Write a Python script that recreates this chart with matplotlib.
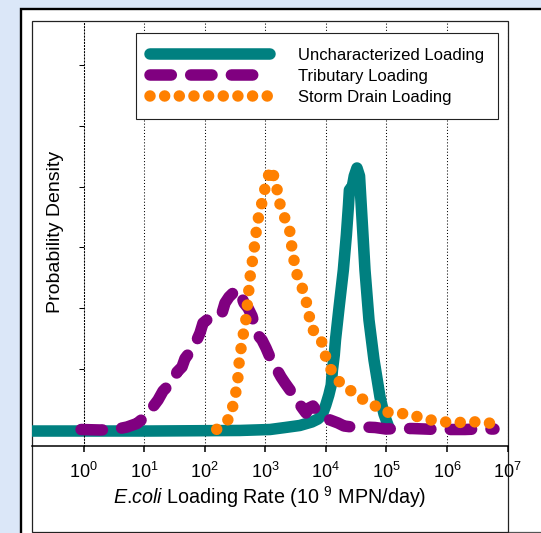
import numpy as np
import matplotlib
matplotlib.use('Agg')
import matplotlib.pyplot as plt
from matplotlib.patches import Rectangle
from matplotlib.lines import Line2D
from matplotlib.ticker import NullLocator

plt.rcParams['font.family'] = ['Liberation Sans', 'DejaVu Sans']
plt.rcParams['mathtext.fontset'] = 'custom'
plt.rcParams['mathtext.rm'] = 'Liberation Sans'
plt.rcParams['mathtext.it'] = 'Liberation Sans:italic'
plt.rcParams['mathtext.bf'] = 'Liberation Sans:bold'

# ---------------- data ----------------
series_labels = ['Uncharacterized Loading', 'Tributary Loading', 'Storm Drain Loading']
x_tick_exponents = [0, 1, 2, 3, 4, 5, 6, 7]
y_ticks = [0, 1, 2, 3, 4, 5, 6]

# log10 of E.coli loading rate (10^9 MPN/day) and probability density (arbitrary units)
uncharacterized_log10 = [-0.9, 1.1, 2.58, 3.08, 3.33, 3.57, 3.77, 3.87, 3.94, 4.0, 4.05, 4.09,
                         4.11, 4.14, 4.16, 4.22, 4.29, 4.34, 4.375, 4.39, 4.44, 4.47, 4.515,
                         4.557, 4.58, 4.614, 4.647, 4.713, 4.796, 4.895, 4.961, 5.044]
uncharacterized_density = [-0.025, -0.025, -0.016, 0.0, 0.033, 0.066, 0.124, 0.173, 0.239, 0.404,
                           0.568, 0.733, 0.98, 1.227, 1.474, 2.018, 2.628, 3.204, 3.699, 3.946,
                           4.012, 4.177, 4.308, 4.177, 3.781, 3.204, 2.628, 1.804, 1.145, 0.535,
                           0.255, 0.025]

tributary_log10 = [-0.04, 0.272, 0.52, 0.718, 0.883, 1.015, 1.131, 1.23, 1.313, 1.395, 1.494,
                   1.544, 1.626, 1.676, 1.758, 1.857, 1.923, 1.973, 2.056, 2.138, 2.22, 2.287,
                   2.336, 2.402, 2.485, 2.551, 2.6, 2.65, 2.716, 2.782, 2.864, 2.947, 3.013,
                   3.063, 3.112, 3.178, 3.261, 3.327, 3.409, 3.475, 3.541, 3.624, 3.673, 3.723,
                   3.789, 3.839, 3.938, 4.07, 4.202, 4.301, 4.433, 4.631, 4.813, 4.994, 5.192,
                   5.423, 5.638, 5.852, 6.084, 6.298, 6.513, 6.777]
tributary_density = [0.0, -0.008, 0.0, 0.041, 0.099, 0.206, 0.354, 0.486, 0.634, 0.717, 0.8,
                     0.947, 1.03, 1.17, 1.277, 1.442, 1.59, 1.754, 1.82, 1.837, 1.837, 1.919,
                     2.084, 2.183, 2.265, 2.315, 2.216, 2.084, 2.002, 1.87, 1.573, 1.474, 1.343,
                     1.227, 1.112, 1.013, 0.865, 0.766, 0.651, 0.552, 0.453, 0.338, 0.272, 0.354,
                     0.387, 0.321, 0.222, 0.157, 0.107, 0.058, 0.041, 0.041, 0.033, 0.008, 0.016,
                     0.016, 0.008, 0.0, 0.0, 0.0, 0.008, 0.008]

storm_drain_log10 = [2.199, 2.419, 2.473, 2.529, 2.556, 2.572, 2.612, 2.65, 2.694, 2.711, 2.737,
                     2.76, 2.803, 2.831, 2.86, 2.902, 2.968, 3.013, 3.096, 3.178, 3.216, 3.282,
                     3.398, 3.426, 3.464, 3.503, 3.602, 3.673, 3.723, 3.768, 3.916, 3.971, 4.058,
                     4.207, 4.388, 4.553, 4.718, 4.95, 5.209, 5.419, 5.655, 5.897, 6.145, 6.365,
                     6.584, 6.822]
storm_drain_density = [0.003, 0.19, 0.42, 0.68, 0.91, 1.14, 1.41, 1.64, 1.89, 2.13, 2.36, 2.61,
                       2.86, 3.09, 3.33, 3.57, 3.82, 4.07, 4.30, 4.07, 3.82, 3.57, 3.33, 3.09,
                       2.86, 2.61, 2.36, 2.13, 1.89, 1.66, 1.51, 1.28, 1.03, 0.80, 0.66, 0.52,
                       0.46, 0.29, 0.27, 0.24, 0.17, 0.13, 0.11, 0.13, 0.12, 0.09]

colors = ['#008080', '#800080', '#ff8000']

# ---------------- figure ----------------
W, H = 541, 533
fig = plt.figure(figsize=(W / 100, H / 100), dpi=100)
fig.patch.set_facecolor('#dbe7f8')


def px_rect(x0, y0, x1, y1, **kw):
    return Rectangle((x0 / W, 1 - y1 / H), (x1 - x0) / W, (y1 - y0) / H,
                     transform=fig.transFigure, **kw)


fig.patches.append(px_rect(21, 8.5, 600, 600, facecolor='white', edgecolor='black',
                           linewidth=1.7, zorder=-10))
fig.patches.append(px_rect(32.3, 20.7, 508, 531.5, facecolor='none', edgecolor='#222222',
                           linewidth=0.9, zorder=-9))
fig.lines.append(Line2D([508 / W, 1.0], [1 - 531.5 / H] * 2, transform=fig.transFigure,
                        color='#555555', linewidth=0.9, zorder=-9))

ax_left, ax_right, ax_top, ax_bottom = 32.3, 507.5, 22.0, 445.8
ax = fig.add_axes([ax_left / W, 1 - ax_bottom / H, (ax_right - ax_left) / W, (ax_bottom - ax_top) / H])
ax.set_zorder(1)
ax.set_facecolor('none')
ax.set_xscale('log')
ax.set_xlim(10 ** ((ax_left - 83.5) / 60.57), 10.0 ** 7)
ax.set_ylim((429.5 - ax_bottom) / 60.7, (429.5 - ax_top) / 60.7)
ax.set_axisbelow(True)

for s in ['top', 'right']:
    ax.spines[s].set_visible(False)
ax.spines['left'].set_position(('data', 1.0))
ax.spines['left'].set_linestyle((0, (1, 2)))
ax.spines['left'].set_linewidth(0.75)
ax.spines['bottom'].set_linewidth(1.1)

ax.set_xticks(10.0 ** np.array(x_tick_exponents))
ax.set_xticklabels([f'$10^{{{k}}}$' for k in x_tick_exponents])
ax.xaxis.set_minor_locator(NullLocator())
ax.tick_params(axis='x', which='major', direction='out', length=4.5, width=1.1, pad=7, labelsize=13)
ax.set_yticks(y_ticks)
ax.set_yticklabels([])
ax.yaxis.set_minor_locator(NullLocator())
ax.tick_params(axis='y', direction='out', length=3.6, width=0.75)

ax.grid(axis='x', which='major', color='black', linestyle=(0, (1, 2)), linewidth=0.75)

lw = 8.3
ax.plot(10.0 ** np.array(uncharacterized_log10), uncharacterized_density, color=colors[0], lw=lw,
        solid_capstyle='round', solid_joinstyle='round', label=series_labels[0], zorder=2)
ax.plot(10.0 ** np.array(tributary_log10), tributary_density, color=colors[1], lw=lw,
        linestyle=(0, (1.85, 1.68)), dash_capstyle='round', dash_joinstyle='round',
        label=series_labels[1], zorder=3)
ax.plot(10.0 ** np.array(storm_drain_log10), storm_drain_density, color=colors[2], lw=lw,
        linestyle=(0, (0.001, 1.27)), dash_capstyle='round', dash_joinstyle='round',
        label=series_labels[2], zorder=4)

leg = ax.legend(loc='upper left', bbox_to_anchor=(135.7 / W, 1 - 33.5 / H),
                bbox_transform=fig.transFigure, borderaxespad=0, frameon=True, fancybox=False,
                framealpha=1, edgecolor='#222222', fontsize=12, handlelength=7.2,
                handletextpad=1.7, borderpad=0.85, labelspacing=0.36)
leg.get_frame().set_linewidth(0.8)

ax.set_xlabel(r'$\mathit{E}$.$\mathit{coli}$ Loading Rate (10 $^{9}$ MPN/day)', fontsize=14.2)
ax.xaxis.set_label_coords(0.5, (ax_bottom - 484) / (ax_bottom - ax_top))
ax.set_ylabel('Probability Density', fontsize=14)
ax.yaxis.set_label_coords((63.5 - ax_left) / (ax_right - ax_left), (ax_bottom - 232) / (ax_bottom - ax_top))

fig.savefig('out.png', dpi=100, facecolor=fig.get_facecolor())
